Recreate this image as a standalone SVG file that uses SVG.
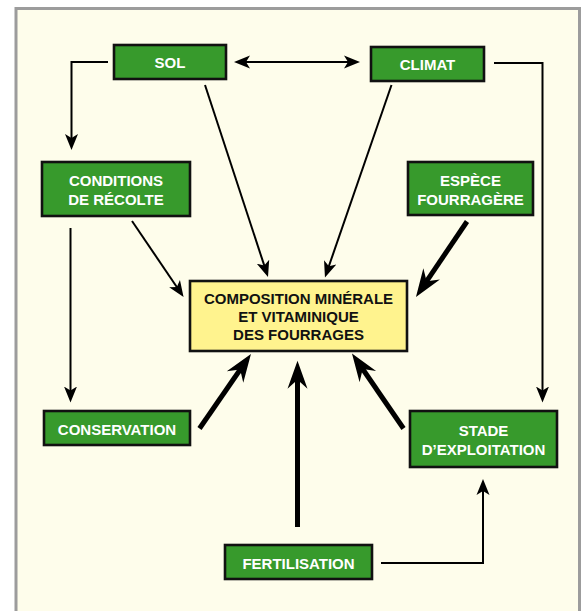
<svg xmlns="http://www.w3.org/2000/svg" width="583" height="611" viewBox="0 0 583 611">
<style>
.frame{fill:#FEFDEB;stroke:#9C9C9C;stroke-width:3}
.g{fill:#379A2C;stroke:#111;stroke-width:2.6}
.y{fill:#FFF38E;stroke:#111;stroke-width:2.6}
.tw{font-family:"Liberation Sans",Arial,sans-serif;font-weight:bold;font-size:15px;fill:#fff;text-anchor:middle}
.tb{font-family:"Liberation Sans",Arial,sans-serif;font-weight:bold;font-size:15px;fill:#111;text-anchor:middle}
.thin{fill:none;stroke:#000;stroke-width:2}
.thick{fill:none;stroke:#000;stroke-width:5}
</style>
<defs>
<marker id="ah" markerUnits="userSpaceOnUse" viewBox="0 -7 17 14" markerWidth="17" markerHeight="14" refX="7" refY="0" orient="auto-start-reverse">
<path d="M0,-6.5 L16,0 L0,6.5 L4,0 Z" fill="#000"/>
</marker>
<marker id="ahb" markerUnits="userSpaceOnUse" viewBox="0 -11 29 22" markerWidth="29" markerHeight="22" refX="14" refY="0" orient="auto">
<path d="M0,-10 L28,0 L0,10 L9,0 Z" fill="#000"/>
</marker>
</defs>
<rect x="0" y="0" width="583" height="611" fill="#fff"/>
<rect class="frame" x="16" y="8.5" width="563.5" height="620"/>
<g id="connectors">
<line class="thin" x1="243" y1="62" x2="351" y2="62" marker-start="url(#ah)" marker-end="url(#ah)"/>
<polyline class="thin" points="108,62 71.5,62 71.5,141" marker-end="url(#ah)"/>
<polyline class="thin" points="494,63 542.5,63 542.5,393.5" marker-end="url(#ah)"/>
<line class="thin" x1="205" y1="85" x2="265.2" y2="268.4" marker-end="url(#ah)"/>
<line class="thin" x1="391.5" y1="85" x2="327.9" y2="269" marker-end="url(#ah)"/>
<line class="thin" x1="132" y1="221" x2="178.5" y2="289.5" marker-end="url(#ah)"/>
<line class="thin" x1="70.5" y1="228" x2="70.5" y2="393.5" marker-end="url(#ah)"/>
<polyline class="thin" points="381,563 483,563 483,488" marker-end="url(#ah)"/>
<line class="thick" x1="467" y1="221.5" x2="423.8" y2="285.4" marker-end="url(#ahb)"/>
<line class="thick" x1="199.5" y1="428.5" x2="243" y2="365.5" marker-end="url(#ahb)"/>
<line class="thick" x1="297.5" y1="527" x2="297.5" y2="374.7" marker-end="url(#ahb)"/>
<line class="thick" x1="403.5" y1="428.5" x2="359.9" y2="365" marker-end="url(#ahb)"/>
</g>
<g id="sol">
<rect class="g" x="114" y="45" width="112" height="34"/>
<text class="tw" x="170" y="68">SOL</text>
</g>
<g id="climat">
<rect class="g" x="371" y="47" width="113" height="34"/>
<text class="tw" x="427.5" y="70">CLIMAT</text>
</g>
<g id="conditions">
<rect class="g" x="42" y="162" width="148" height="54"/>
<text class="tw" x="116" y="186">CONDITIONS</text>
<text class="tw" x="116" y="205">DE RÉCOLTE</text>
</g>
<g id="espece">
<rect class="g" x="408" y="162" width="125" height="53"/>
<text class="tw" x="470.5" y="186">ESPÈCE</text>
<text class="tw" x="470.5" y="205">FOURRAGÈRE</text>
</g>
<g id="composition">
<rect class="y" x="190" y="281" width="217" height="70"/>
<text class="tb" x="298.5" y="304">COMPOSITION MINÉRALE</text>
<text class="tb" x="298.5" y="322">ET VITAMINIQUE</text>
<text class="tb" x="298.5" y="340">DES FOURRAGES</text>
</g>
<g id="conservation">
<rect class="g" x="44" y="411" width="146" height="34"/>
<text class="tw" x="117" y="435">CONSERVATION</text>
</g>
<g id="stade">
<rect class="g" x="410" y="411" width="147" height="56"/>
<text class="tw" x="483.5" y="436">STADE</text>
<text class="tw" x="483.5" y="455">D’EXPLOITATION</text>
</g>
<g id="fertilisation">
<rect class="g" x="225" y="545" width="147" height="34"/>
<text class="tw" x="298.5" y="569">FERTILISATION</text>
</g>
</svg>
